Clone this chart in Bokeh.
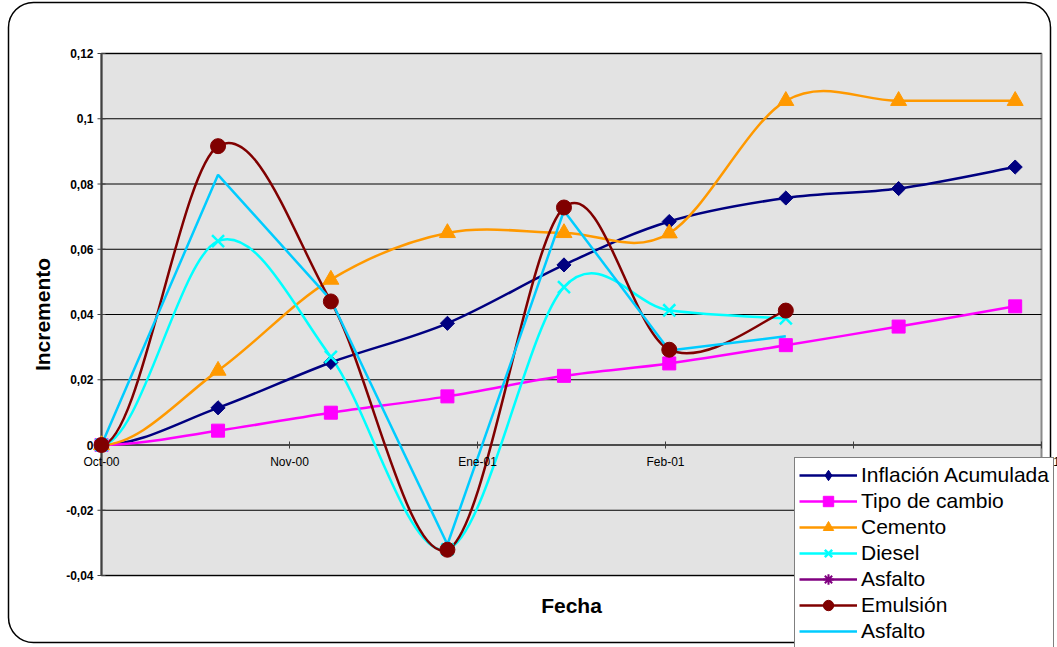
import numpy as np
import pandas as pd
from bokeh.plotting import figure
from bokeh.models import (ColumnDataSource, Range1d, Legend, LegendItem, LabelSet, Label,
                          BoxAnnotation)
from bokeh.core.properties import value
from bokeh.embed import file_html
from bokeh.resources import INLINE

nan = float("nan")

# ---------------- data ----------------
dates = ["2000-10-01", "2000-11-01", "2000-12-01", "2001-01-01", "2001-02-01",
         "2001-03-01", "2001-04-01", "2001-05-01", "2001-06-01"]
inflacion = [0.0, 0.0114, 0.0253, 0.0373, 0.0552, 0.0685, 0.0757, 0.0786, 0.0852]
tipo_cambio = [0.0, 0.0044, 0.0099, 0.0149, 0.0212, 0.0250, 0.0306, 0.0363, 0.0425]
cemento = [0.0, 0.0228, 0.0507, 0.0650, 0.0650, 0.0649, 0.1055, 0.1055, 0.1055]
diesel = [0.0, 0.0625, 0.0270, -0.0320, 0.0484, 0.0413, 0.0388, nan, nan]
asfalto = [0.0, nan, nan, nan, nan, nan, nan, nan, nan]
emulsion = [0.0, 0.0916, 0.0440, -0.0321, 0.0728, 0.0292, 0.0412, nan, nan]
asfalto2 = [0.0, 0.0828, 0.0445, -0.0305, 0.0718, 0.0290, 0.0333, nan, nan]

series_names = ["Inflación Acumulada", "Tipo de cambio", "Cemento", "Diesel",
                "Asfalto", "Emulsión", "Asfalto"]

x_tick_labels = ["Oct-00", "Nov-00", "Ene-01", "Feb-01", "Abr-01", "Jun-01"]
x_tick_step_days = 50
y_ticks = [-0.04, -0.02, 0.0, 0.02, 0.04, 0.06, 0.08, 0.1, 0.12]
y_tick_labels = ["-0,04", "-0,02", "0", "0,02", "0,04", "0,06", "0,08", "0,1", "0,12"]

x_title = "Fecha"
y_title = "Incremento"

# ---------------- layout (pixels) ----------------
W, H = 1057, 647
PLOT_L, PLOT_R, PLOT_T, PLOT_B = 101, 1041, 53, 575
FONT = "Liberation Sans"

start = pd.Timestamp(dates[0])
xd = [float((pd.Timestamp(d) - start).days) for d in dates]
x_ticks = [float(i * x_tick_step_days) for i in range(len(x_tick_labels))]

x_lo, x_hi = x_ticks[0], x_ticks[-1]
y_lo, y_hi = y_ticks[0], y_ticks[-1]
pxx = (PLOT_R - PLOT_L) / (x_hi - x_lo)
pxy = (PLOT_B - PLOT_T) / (y_hi - y_lo)
x_range = Range1d(x_lo - PLOT_L / pxx, x_hi + (W - PLOT_R) / pxx)
y_range = Range1d(y_lo - (H - PLOT_B) / pxy, y_hi + PLOT_T / pxy)


def bezier_source(xv, yv):
    """Excel-like smoothed line: cubic Bezier pieces (Catmull-Rom, tension 1/6)."""
    pts = np.array([(a, b) for a, b in zip(xv, yv) if not np.isnan(b)], dtype=float)
    n = len(pts)
    cols = {k: [] for k in ("x0", "y0", "x1", "y1", "cx0", "cy0", "cx1", "cy1")}
    for i in range(n - 1):
        if i > 0:
            prev = pts[i - 1]
        else:  # mirrored phantom point -> flat start
            prev = np.array([2 * pts[0][0] - pts[1][0], pts[1][1]])
        nxt = pts[i + 2] if i + 2 < n else pts[i + 1]
        c0 = pts[i] + (pts[i + 1] - prev) / 6.0
        c1 = pts[i + 1] - (nxt - pts[i]) / 6.0
        cols["x0"].append(pts[i][0]); cols["y0"].append(pts[i][1])
        cols["x1"].append(pts[i + 1][0]); cols["y1"].append(pts[i + 1][1])
        cols["cx0"].append(c0[0]); cols["cy0"].append(c0[1])
        cols["cx1"].append(c1[0]); cols["cy1"].append(c1[1])
    return ColumnDataSource(cols)


p = figure(width=W, height=H, output_backend="svg", toolbar_location=None,
           x_range=x_range, y_range=y_range,
           x_axis_location=None, y_axis_location=None, min_border=0)
p.grid.visible = False
p.background_fill_color = "white"
p.border_fill_color = "white"
p.outline_line_color = None

# plot area (granite grey)
p.add_layout(BoxAnnotation(left=x_lo, right=x_hi, bottom=y_lo, top=y_hi,
                           fill_color="#e3e3e3", fill_alpha=1.0,
                           line_color="#8a8a8a", line_alpha=1.0, line_width=2,
                           level="underlay"))

# horizontal gridlines
grid_src = ColumnDataSource(dict(y=y_ticks, lab=y_tick_labels, x=[x_lo] * len(y_ticks)))
p.segment(x0=x_lo, x1=x_hi, y0="y", y1="y", source=grid_src, line_color="black", line_width=1)

# left axis line, ticks, labels
p.segment(x0=x_lo, x1=x_lo, y0=y_lo, y1=y_hi, line_color="#404040", line_width=2)
p.scatter("x", "y", source=grid_src, marker="dash", size=8, line_color="#404040", line_width=1)
p.add_layout(LabelSet(x="x", y="y", text="lab", source=grid_src, x_offset=-8,
                      text_align="right", text_baseline="middle",
                      text_font=value(FONT), text_font_style="bold",
                      text_font_size="12px", text_color="black"))

# x axis (at zero), ticks, labels
tick_src = ColumnDataSource(dict(x=x_ticks, y=[0.0] * len(x_ticks), text=x_tick_labels))
p.segment(x0=x_lo, x1=x_hi, y0=0.0, y1=0.0, line_color="#404040", line_width=1.5)
p.scatter("x", "y", source=tick_src, marker="dash", angle=np.pi / 2, size=7,
          line_color="#404040", line_width=1)
p.add_layout(LabelSet(x="x", y="y", text="text", source=tick_src, y_offset=-10,
                      text_align="center", text_baseline="top", text_font=value(FONT),
                      text_font_size="12px", text_color="black"))

# axis titles
p.add_layout(Label(x=42, y=(y_lo + y_hi) / 2, x_units="screen", text=y_title,
                   angle=np.pi / 2, text_align="center", text_baseline="middle",
                   text_font=FONT, text_font_style="bold", text_font_size="21px",
                   text_color="black"))
p.add_layout(Label(x=(x_lo + x_hi) / 2, y=y_lo, y_offset=-30, text=x_title,
                   text_align="center", text_baseline="middle",
                   text_font=FONT, text_font_style="bold", text_font_size="21px",
                   text_color="black"))

# ---------------- series ----------------
colors = ["#000080", "#FF00FF", "#FF9900", "#00FFFF", "#800080", "#800000", "#00CCFF"]
LW = 2.5

src = ColumnDataSource(dict(x=xd, inf=inflacion, tc=tipo_cambio, cem=cemento,
                            die=diesel, asf=asfalto, emu=emulsion, asf2=asfalto2))


def smooth(yv, color):
    return p.bezier(source=bezier_source(xd, yv), x0="x0", y0="y0", x1="x1", y1="y1",
                    cx0="cx0", cy0="cy0", cx1="cx1", cy1="cy1",
                    line_color=color, line_width=LW)


# lines first
l_inf = smooth(inflacion, colors[0])
l_tc = smooth(tipo_cambio, colors[1])
l_cem = smooth(cemento, colors[2])
l_die = smooth(diesel, colors[3])
l_asf = p.line("x", "asf", source=src, line_color=colors[4], line_width=LW)
l_emu = smooth(emulsion, colors[5])
l_asf2 = p.line("x", "asf2", source=src, line_color=colors[6], line_width=LW)

# markers
m_inf_leg = p.scatter("x", "inf", source=src, marker="diamond", size=10,
                      fill_color=colors[0], line_color=colors[0])
m_inf = p.scatter("x", "inf", source=src, marker="square", angle=np.pi / 4, size=10,
                  fill_color=colors[0], line_color=colors[0])
m_tc = p.scatter("x", "tc", source=src, marker="square", size=13,
                 fill_color=colors[1], line_color=colors[1])
m_cem = p.scatter("x", "cem", source=src, marker="triangle", size=16,
                  fill_color=colors[2], line_color=colors[2])
m_die = p.scatter("x", "die", source=src, marker="x", size=17,
                  line_color=colors[3], line_width=2.5)
m_asf = p.scatter("x", "asf", source=src, marker="asterisk", size=13,
                  line_color=colors[4], line_width=2)
m_emu = p.scatter("x", "emu", source=src, marker="circle", size=15,
                  fill_color=colors[5], line_color=colors[5])

items = [
    LegendItem(label=series_names[0], renderers=[l_inf, m_inf_leg]),
    LegendItem(label=series_names[1], renderers=[l_tc, m_tc]),
    LegendItem(label=series_names[2], renderers=[l_cem, m_cem]),
    LegendItem(label=series_names[3], renderers=[l_die, m_die]),
    LegendItem(label=series_names[4], renderers=[l_asf, m_asf]),
    LegendItem(label=series_names[5], renderers=[l_emu, m_emu]),
    LegendItem(label=series_names[6], renderers=[l_asf2]),
]

# outer rounded chart border
p.add_layout(BoxAnnotation(left=8, right=1050, top=5, bottom=645,
                           left_units="screen", right_units="screen",
                           top_units="screen", bottom_units="screen",
                           fill_alpha=0, line_color="black", line_alpha=1.0,
                           line_width=1.5, border_radius=25))

legend = Legend(items=items, location=(794, -2), orientation="vertical",
                label_text_font=FONT, label_text_font_size="21px", label_text_color="black",
                glyph_width=58, glyph_height=26, label_height=26, label_standoff=4,
                spacing=0, padding=4, margin=0,
                border_line_color="black", border_line_width=1,
                background_fill_color="white", background_fill_alpha=1.0)
p.add_layout(legend, "center")

open("out.html", "w").write(file_html(p, INLINE))
